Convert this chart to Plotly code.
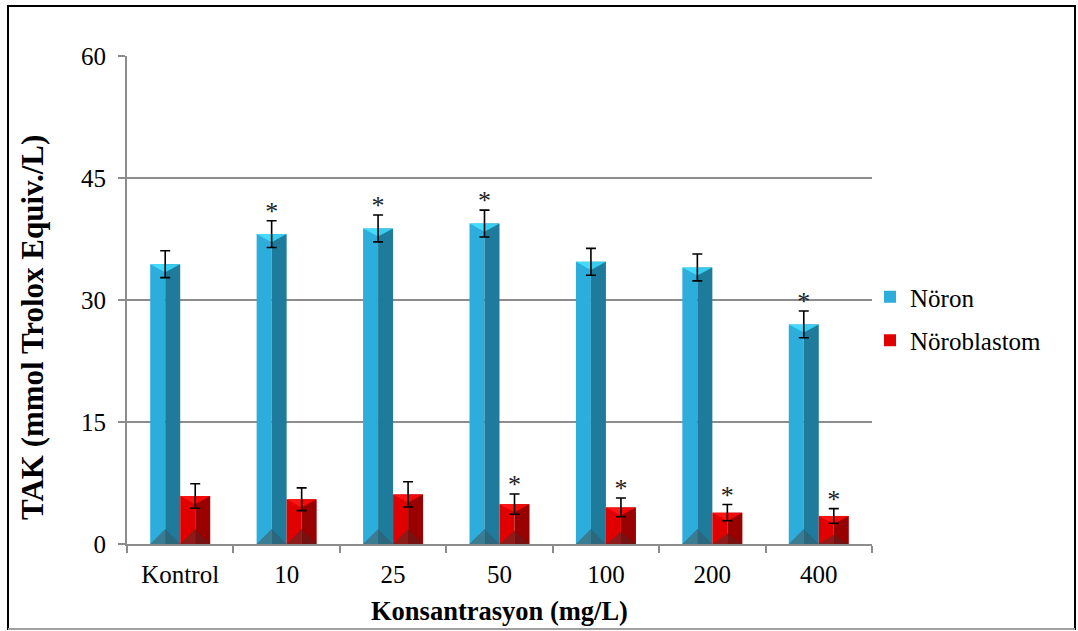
import numpy as np
import plotly.graph_objects as go

# ---- data ----
categories = ["Kontrol", "10", "25", "50", "100", "200", "400"]
noron = [34.4, 38.1, 38.8, 39.4, 34.7, 34.0, 27.0]
noron_err = [1.65, 1.65, 1.65, 1.65, 1.65, 1.65, 1.65]
noron_sig = [0, 1, 1, 1, 0, 0, 1]
noroblastom = [5.9, 5.5, 6.1, 4.9, 4.5, 3.85, 3.45]
noroblastom_err = [1.5, 1.4, 1.55, 1.25, 1.15, 1.0, 0.9]
noroblastom_sig = [0, 0, 0, 1, 1, 1, 1]
y_ticks = [0, 15, 30, 45, 60]

FONT = "Liberation Serif"
W, H = 1078, 631
L, R, T, B = 127, 872, 56, 544  # plot area in px

x = np.arange(len(categories))
HW = 0.141          # half bar width (category units)
TOP_D = 1.0         # top bevel depth (data units)
BOT_D = 1.85        # bottom bevel depth (data units)
STAR_GAP = 0.9      # star offset above error cap (data units)

series = [
    dict(name="Nöron", vals=noron, err=noron_err, sig=noron_sig, off=-2 * HW,
         light="#2DADDC", dark="#1F7B9C", top_l="#42DCFC", top_r="#38CDEE",
         bot_l="#3A7C92", bot_r="#2B687D"),
    dict(name="Nöroblastom", vals=noroblastom, err=noroblastom_err, sig=noroblastom_sig, off=0.0,
         light="#E00000", dark="#990000", top_l="#FF1414", top_r="#F20A0A",
         bot_l="#8E1A1A", bot_r="#771212"),
]

fig = go.Figure()

def poly_trace(xs, ys, color):
    return go.Scatter(x=xs, y=ys, mode="lines", fill="toself", fillcolor=color,
                      line=dict(width=0, color=color), hoverinfo="skip", showlegend=False)

for s in series:
    vals = np.array(s["vals"], dtype=float)
    # front-left (light) and front-right (dark) halves
    fig.add_trace(go.Bar(x=x, y=vals, offset=s["off"], width=HW, marker_color=s["light"],
                         marker_line_width=0, name=s["name"], legendgroup=s["name"],
                         showlegend=True))
    fig.add_trace(go.Bar(x=x, y=vals, offset=s["off"] + HW, width=HW, marker_color=s["dark"],
                         marker_line_width=0, legendgroup=s["name"], showlegend=False))
    # bevel triangles
    tl_x, tl_y, tr_x, tr_y, bl_x, bl_y, br_x, br_y = [], [], [], [], [], [], [], []
    for xi, v in zip(x, vals):
        x0 = xi + s["off"]
        xc = x0 + HW
        x1 = x0 + 2 * HW
        td = min(TOP_D, v / 3)
        bd = min(BOT_D, v / 3)
        tl_x += [x0, xc, xc, x0, None]; tl_y += [v, v, v - td, v, None]
        tr_x += [xc, x1, xc, xc, None]; tr_y += [v, v, v - td, v, None]
        bl_x += [x0, xc, xc, x0, None]; bl_y += [0, 0, bd, 0, None]
        br_x += [xc, x1, xc, xc, None]; br_y += [0, 0, bd, 0, None]
    fig.add_trace(poly_trace(tl_x, tl_y, s["top_l"]))
    fig.add_trace(poly_trace(tr_x, tr_y, s["top_r"]))
    fig.add_trace(poly_trace(bl_x, bl_y, s["bot_l"]))
    fig.add_trace(poly_trace(br_x, br_y, s["bot_r"]))
    # error bars
    fig.add_trace(go.Scatter(x=x + s["off"] + HW, y=vals, mode="markers",
                             marker=dict(size=1, color="rgba(0,0,0,0)"),
                             error_y=dict(type="data", array=s["err"], color="black",
                                          thickness=1.6, width=5),
                             hoverinfo="skip", showlegend=False))
    # significance stars
    sx = [xi + s["off"] + HW for xi, f in zip(x, s["sig"]) if f]
    sy = [v + e + STAR_GAP for v, e, f in zip(s["vals"], s["err"], s["sig"]) if f]
    fig.add_trace(go.Scatter(x=sx, y=sy, mode="text", text=["*"] * len(sx),
                             textposition="middle center",
                             textfont=dict(family=FONT, size=26, color="#222"),
                             hoverinfo="skip", showlegend=False))

def px_x(p):
    return (p - L) / (R - L)

def px_y(p):
    return (B - p) / (B - T)

fig.update_layout(
    width=W, height=H,
    margin=dict(l=L, r=W - R, t=T, b=H - B, pad=0),
    paper_bgcolor="white", plot_bgcolor="white",
    barmode="overlay",
    font=dict(family=FONT, size=25, color="black"),
    showlegend=True,
    legend=dict(x=px_x(870), y=px_y(274), xanchor="left", yanchor="top",
                font=dict(family=FONT, size=25, color="black"),
                traceorder="grouped", tracegroupgap=8, bgcolor="rgba(0,0,0,0)"),
    xaxis=dict(range=[-0.5, len(categories) - 0.5], tickmode="array",
               tickvals=list(x), ticktext=categories, ticks="", showgrid=False,
               showline=True, linecolor="#8C8C8C", linewidth=2, zeroline=False,
               tickfont=dict(family=FONT, size=25, color="black"),
               ticklabelstandoff=7,
               minor=dict(tickmode="array", tickvals=list(np.arange(-0.5, len(categories), 1.0)),
                          ticks="outside", ticklen=7, tickwidth=2, tickcolor="#8C8C8C",
                          showgrid=False)),
    yaxis=dict(range=[0, 60], tickmode="array", tickvals=y_ticks,
               ticks="outside", ticklen=7, tickwidth=2, tickcolor="#8C8C8C",
               showgrid=True, gridcolor="#8C8C8C", gridwidth=2,
               showline=True, linecolor="#8C8C8C", linewidth=2, zeroline=False,
               tickfont=dict(family=FONT, size=25, color="black"),
               ticklabelstandoff=7),
    annotations=[
        dict(text="<b>TAK (mmol Trolox Equiv./L)</b>", textangle=-90,
             xref="paper", yref="paper", x=px_x(32), y=px_y(328),
             xanchor="center", yanchor="middle", showarrow=False,
             font=dict(family=FONT, size=31, color="black")),
        dict(text="<b>Konsantrasyon (mg/L)</b>",
             xref="paper", yref="paper", x=px_x(499), y=px_y(611),
             xanchor="center", yanchor="middle", showarrow=False,
             font=dict(family=FONT, size=26.5, color="black")),
    ],
    shapes=[
        dict(type="rect", xref="paper", yref="paper", x0=px_x(8), x1=px_x(1075),
             y0=px_y(629), y1=px_y(6), line=dict(color="black", width=2)),
        dict(type="line", xref="paper", yref="paper", x0=px_x(8), x1=px_x(1075),
             y0=px_y(629), y1=px_y(629), line=dict(color="#A0A0A0", width=2)),
    ],
)

fig.write_html("out.html", config={"displayModeBar": False},
               post_script="document.body.style.margin='0px';")
